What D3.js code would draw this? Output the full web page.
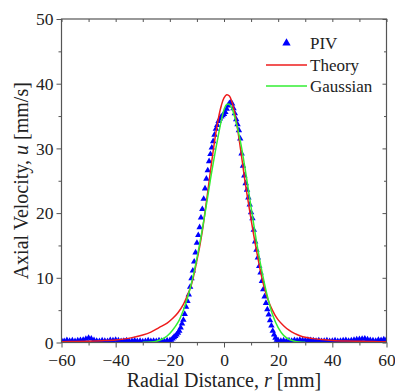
<!DOCTYPE html>
<html><head><meta charset="utf-8">
<script src="https://cdn.jsdelivr.net/npm/d3@7/dist/d3.min.js"></script>
<style>html,body{margin:0;padding:0;background:#fff;}svg{display:block;}</style>
</head><body>
<script>
// ---- data ----
const xTicks = [-60, -40, -20, 0, 20, 40, 60];
const xMinor = [-50, -30, -10, 10, 30, 50];
const yTicks = [0, 10, 20, 30, 40, 50];
const yMinor = [5, 15, 25, 35, 45];

const rPIV = [-60,-59,-58,-57,-56,-55,-54,-53,-52,-51,-50,-49,-48,-47,-46,-45,-44,-43,-42,-41,-40,-39,-38,-37,-36,-35,-34,-33,-32,-31,-30,-29,-28,-27,-26,-25,-24,-23,-22,-21,
 -20,-19.5,-19,-18.5,-18,-17.5,-17,-16.5,-16,-15.5,-15,-14.5,-14,-13.5,-13,-12.5,-12,-11.5,-11,-10.5,-10,-9.5,-9,-8.5,-8,-7.5,-7,-6.5,-6,-5.5,-5,-4.5,-4,-3.5,-3,-2.5,-2,-1.5,-1,-0.5,
 0,0.5,1,1.5,2,2.5,3,3.5,4,4.5,5,5.5,6,6.5,7,7.5,8,8.5,9,9.5,10,10.5,11,11.5,12,12.5,13,13.5,14,14.5,15,15.5,16,16.5,17,17.5,18,18.5,19,19.5,20,
 21,22,23,24,25,26,27,28,29,30,31,32,33,34,35,36,37,38,39,40,41,42,43,44,45,46,47,48,49,50,51,52,53,54,55,56,57,58,59,60];
const uPIV = [0.3,0.2,0.35,0.25,0.3,0.2,0.3,0.35,0.4,0.55,0.7,0.6,0.35,0.25,0.2,0.3,0.25,0.2,0.35,0.3,0.4,0.3,0.2,0.25,0.3,0.2,0.25,0.3,0.2,0.25,0.15,0.2,0.3,0.2,0.25,0.2,0.3,0.25,0.2,0.3,
 0.3,0.4,0.6,0.8,1.0,1.2,1.5,1.8,2.3,2.9,3.5,4.4,5.5,6.4,7.4,8.6,9.9,11.1,12.5,13.9,15.4,16.6,17.8,19.3,20.6,22.2,23.8,25.3,26.6,28.0,29.1,30.1,31.1,32.1,33.0,33.6,34.2,34.6,34.9,35.1,
 35.3,35.6,36.1,36.6,37.0,37.1,36.9,36.2,35.4,34.5,33.7,32.8,31.5,29.2,27.3,25.8,24.6,23.6,22.4,21.3,20.1,19.2,17.4,15.6,14.3,13.1,11.8,10.8,9.5,8.2,7.1,6.1,5.1,4.3,3.4,2.6,1.8,1.2,0.7,0.4,0.3,
 0.25,0.3,0.2,0.3,0.25,0.35,0.3,0.4,0.35,0.3,0.4,0.35,0.3,0.25,0.3,0.2,0.25,0.3,0.2,0.25,0.3,0.2,0.25,0.3,0.35,0.25,0.3,0.4,0.45,0.5,0.55,0.6,0.45,0.35,0.3,0.25,0.4,0.35,0.45,0.5];

const rTheory = [-60,-55,-50,-45,-40,-36,-33,-30,-27,-24,-21,-19,-17,-15,-13,-12,-11,-10,-9,-8,-7,-6,-5,-4,-3,-2,-1,0,1,2,3,4,5,6,7,8,9,10,11,12,13,14,15,16,17,18,19,20,22,24,26,28,30,33,36,40,45,50,55,60];
const uTheory = [0.12,0.15,0.2,0.28,0.4,0.6,0.85,1.15,1.6,2.3,3.0,3.7,4.6,5.9,7.8,9.0,10.7,12.7,14.8,17.2,20.2,23.3,26.5,29.6,32.4,34.8,36.6,37.8,38.3,38.1,37.1,35.4,33.0,30.2,27.2,24.2,21.6,19.0,16.5,14.2,12.0,10.0,8.3,6.9,5.8,4.9,4.1,3.5,2.6,1.9,1.4,1.05,0.8,0.6,0.45,0.32,0.23,0.18,0.14,0.12];

const rGauss = [-30,-27,-25,-23,-21,-19,-17,-15,-13,-11,-9,-7,-5,-3,-1,0,1,2,3,4,6,8,10,12,14,16,18,20,22,24,26,28,30];
const uGauss = [0.02,0.08,0.2,0.5,1.0,1.9,3.1,5.0,7.6,11.0,15.2,20.0,25.2,30.0,34.3,36.0,36.8,36.8,36.1,34.8,31.2,26.3,20.9,15.6,11.0,7.2,4.2,2.3,1.1,0.5,0.2,0.07,0.02];

const legendItems = ["PIV", "Theory", "Gaussian"];

// ---- drawing ----
const W = 395, H = 391;
const L = 61.5, R = 386.5, T = 19, B = 342.5;
const svg = d3.select("body").append("svg").attr("width", W).attr("height", H);
const x = d3.scaleLinear().domain([-60, 60]).range([L, R]);
const y = d3.scaleLinear().domain([0, 50]).range([B, T]);
const axisColor = "#555";
const font = "'Liberation Serif','Times New Roman',serif";
const blue = "#0000ff", red = "#ee1c1c", green = "#33ee33";

svg.append("clipPath").attr("id","clip").append("rect")
  .attr("x", L).attr("y", T).attr("width", R - L).attr("height", B - T);

// PIV triangles
const plot = svg.append("g").attr("clip-path", "url(#clip)");
const tri = d3.symbol().type(d3.symbolTriangle).size(18);
plot.selectAll("path.piv").data(d3.range(rPIV.length)).join("path")
  .attr("class","piv")
  .attr("d", tri)
  .attr("transform", i => `translate(${x(rPIV[i])},${y(uPIV[i])})`)
  .attr("fill", blue);

const line = d3.line().x(d => x(d[0])).y(d => y(d[1])).curve(d3.curveCatmullRom);
plot.append("path").datum(rTheory.map((r,i)=>[r,uTheory[i]]))
  .attr("d", line).attr("fill","none").attr("stroke", red).attr("stroke-width", 1.5);
plot.append("path").datum(rGauss.map((r,i)=>[r,uGauss[i]]))
  .attr("d", line).attr("fill","none").attr("stroke", green).attr("stroke-width", 1.5);

// axes
function styleAxis(g){
  g.select(".domain").remove();
  g.selectAll(".tick line").attr("stroke", axisColor).attr("stroke-width", 1);
  g.selectAll(".tick text").attr("fill", "#222").style("font-family", font).style("font-size", "17.5px");
}
svg.append("g").attr("transform", `translate(0,${B})`)
  .call(d3.axisBottom(x).tickValues(xTicks).tickSize(5).tickPadding(6).tickFormat(d3.format("d")))
  .call(styleAxis);
svg.append("g").attr("transform", `translate(0,${B})`)
  .call(d3.axisBottom(x).tickValues(xMinor).tickSize(3).tickFormat(""))
  .call(styleAxis);
svg.append("g").attr("transform", `translate(${L},0)`)
  .call(d3.axisLeft(y).tickValues(yTicks).tickSize(5).tickPadding(3).tickFormat(d3.format("d")))
  .call(styleAxis);
svg.append("g").attr("transform", `translate(${L},0)`)
  .call(d3.axisLeft(y).tickValues(yMinor).tickSize(3).tickFormat(""))
  .call(styleAxis);
svg.append("g").attr("transform", `translate(0,${T})`)
  .call(d3.axisTop(x).tickValues(xTicks.concat(xMinor)).tickSize(-3).tickFormat(""))
  .call(styleAxis);
svg.append("g").attr("transform", `translate(${R},0)`)
  .call(d3.axisRight(y).tickValues(yTicks).tickSize(-4).tickFormat(""))
  .call(styleAxis);
svg.append("g").attr("transform", `translate(${R},0)`)
  .call(d3.axisRight(y).tickValues(yMinor).tickSize(-2.5).tickFormat(""))
  .call(styleAxis);

svg.append("rect").attr("x", L).attr("y", T).attr("width", R - L).attr("height", B - T)
  .attr("fill","none").attr("stroke", axisColor).attr("stroke-width", 1.2);

// axis titles
const xt = svg.append("text").attr("x", (L + R) / 2).attr("y", 387)
  .attr("text-anchor","middle").style("font-family", font).style("font-size","20px").attr("fill","#222");
xt.append("tspan").text("Radial Distance, ");
xt.append("tspan").attr("font-style","italic").text("r");
xt.append("tspan").text(" [mm]");

const yt = svg.append("text").attr("transform", `translate(28,${(T + B) / 2}) rotate(-90)`)
  .attr("text-anchor","middle").style("font-family", font).style("font-size","20px").attr("fill","#222");
yt.append("tspan").text("Axial Velocity, ");
yt.append("tspan").attr("font-style","italic").text("u");
yt.append("tspan").text(" [mm/s]");

// legend
const lg = svg.append("g");
lg.append("path").attr("d", d3.symbol().type(d3.symbolTriangle).size(30))
  .attr("transform", `translate(${286.5},${43})`).attr("fill", blue);
lg.append("line").attr("x1", 266).attr("x2", 307).attr("y1", 65).attr("y2", 65)
  .attr("stroke", red).attr("stroke-width", 1.5);
lg.append("line").attr("x1", 266).attr("x2", 307).attr("y1", 86).attr("y2", 86)
  .attr("stroke", green).attr("stroke-width", 1.5);
lg.selectAll("text").data(legendItems).join("text")
  .attr("x", 310).attr("y", (d,i) => [43, 65, 86][i]).attr("dy", "0.35em")
  .style("font-family", font).style("font-size","17px").attr("fill","#222").text(d => d);
</script>
</body></html>
